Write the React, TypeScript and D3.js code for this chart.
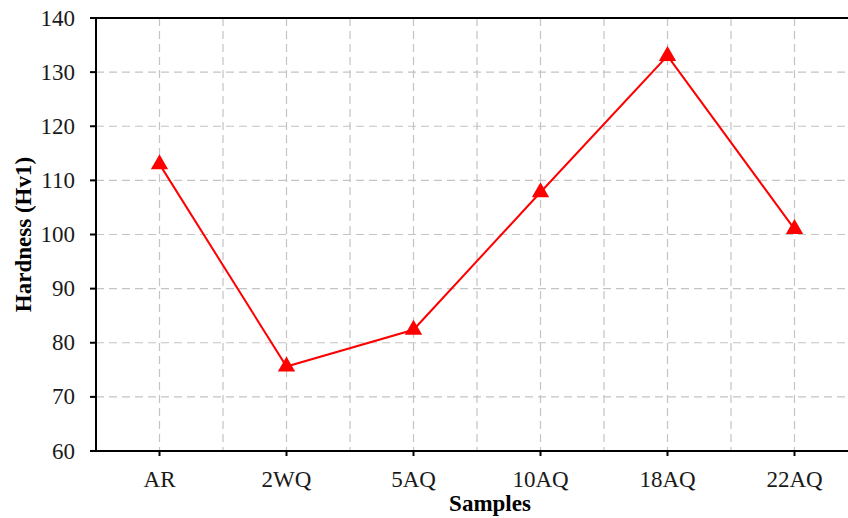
import React from 'react';
import * as d3 from 'd3';

const samples = ['AR', '2WQ', '5AQ', '10AQ', '18AQ', '22AQ'];
const hardness = [113, 75.6, 82.4, 107.8, 133, 101];
const yTicks = [60, 70, 80, 90, 100, 110, 120, 130, 140];

const W = 848;
const H = 518;
const marginLeft = 96;
const marginTop = 18;
const bandStep = 127;
const plotBottom = 451;

const App = () => {
    const x = d3.scaleBand<string>()
        .domain(samples)
        .range([marginLeft, marginLeft + bandStep * samples.length])
        .paddingInner(0)
        .paddingOuter(0);

    const y = d3.scaleLinear()
        .domain([60, 140])
        .range([plotBottom, marginTop]);

    const cx = (s: string) => (x(s) as number) + x.bandwidth() / 2;
    const plotRight = marginLeft + bandStep * samples.length;

    const line = d3.line<number>()
        .x((d, i) => cx(samples[i]))
        .y(d => y(d));

    const tri = d3.symbol().type(d3.symbolTriangle).size(130)();

    // vertical grid: band centres and band edges
    const vGrid: number[] = [];
    samples.forEach((s, i) => {
        vGrid.push(cx(s));
        if (i > 0) vGrid.push(x(s) as number);
    });

    const font = '"Liberation Serif", "Times New Roman", serif';

    return (
        <svg width={W} height={H} style={{ position: 'absolute', left: 0, top: 0, background: '#fff' }}
            fontFamily={font}>
            {/* grid */}
            <g stroke="#c4c4c4" strokeWidth={1.2} strokeDasharray="8,5">
                {yTicks.filter(t => t > 60 && t < 140).map(t => (
                    <line key={'h' + t} x1={marginLeft} x2={plotRight} y1={y(t)} y2={y(t)} />
                ))}
                {vGrid.map((gx, i) => (
                    <line key={'v' + i} x1={gx} x2={gx} y1={marginTop} y2={plotBottom} />
                ))}
            </g>

            {/* axes */}
            <g stroke="#000" strokeWidth={2}>
                <line x1={marginLeft} x2={plotRight} y1={marginTop} y2={marginTop} />
                <line x1={marginLeft} x2={plotRight} y1={plotBottom} y2={plotBottom} />
                <line x1={marginLeft} x2={marginLeft} y1={marginTop - 1} y2={plotBottom + 1} />
                {yTicks.map(t => (
                    <line key={'yt' + t} x1={marginLeft - 6} x2={marginLeft} y1={y(t)} y2={y(t)} />
                ))}
                {samples.map(s => (
                    <line key={'xt' + s} x1={cx(s)} x2={cx(s)} y1={plotBottom} y2={plotBottom + 5} />
                ))}
            </g>

            {/* tick labels */}
            <g fontSize={23} fill="#1a1a1a">
                {yTicks.map(t => (
                    <text key={'yl' + t} x={marginLeft - 21} y={y(t)} dy="0.33em" textAnchor="end">{t}</text>
                ))}
                {samples.map(s => (
                    <text key={'xl' + s} x={cx(s)} y={487} textAnchor="middle">{s}</text>
                ))}
            </g>

            {/* axis titles */}
            <text x={490} y={511} textAnchor="middle" fontSize={23} fontWeight="bold">Samples</text>
            <text transform={`translate(31,${(marginTop + plotBottom) / 2}) rotate(-90)`}
                textAnchor="middle" fontSize={23} fontWeight="bold">Hardness (Hv1)</text>

            {/* series */}
            <path d={line(hardness) || ''} fill="none" stroke="#ff0000" strokeWidth={2} />
            {hardness.map((v, i) => (
                <path key={'m' + i} d={tri || ''} transform={`translate(${cx(samples[i])},${y(v)})`} fill="#ff0000" />
            ))}
        </svg>
    );
};

export default App;
